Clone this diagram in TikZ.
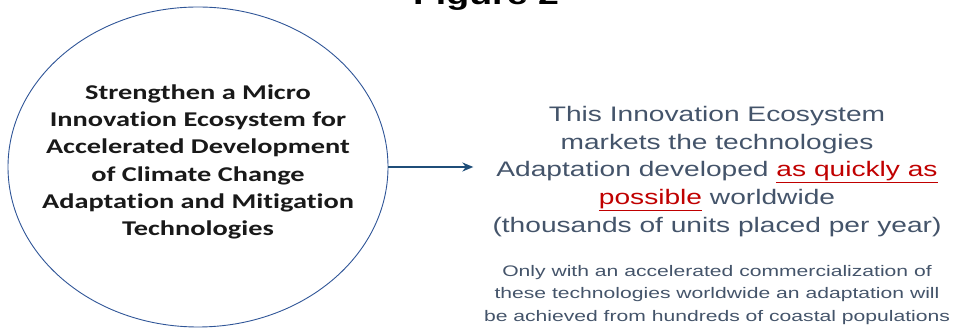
\documentclass[tikz,border=0pt]{standalone}
\usepackage{fontspec}
\setmainfont{Liberation Sans}
\newfontfamily\goalfont[FakeStretch=1.35,Ligatures={NoCommon}]{Carlito}
\newfontfamily\widefont[FakeStretch=1.34]{Liberation Sans}
\newfontfamily\notefont[FakeStretch=1.38]{Liberation Sans}
\usetikzlibrary{positioning,shapes.geometric,arrows.meta}
\definecolor{rim}{HTML}{2F5597}
\definecolor{darrow}{HTML}{1F4E79}
\definecolor{slate}{HTML}{44546A}
\definecolor{accent}{HTML}{C00000}

\begin{document}
\begin{tikzpicture}[x=1pt,y=1pt,>={Stealth[length=11pt,width=9pt]},
  goalbox/.style={ellipse,draw=rim,line width=0.9pt,minimum width=380pt,minimum height=320pt},
  textbox/.style={align=center,inner sep=0pt,text=slate}]
\useasboundingbox (0,0) rectangle (954,329);
\node[font=\widefont\bfseries\fontsize{28}{28}\selectfont,anchor=base] (title) at (486,324) {Figure 2};
\node[goalbox] (goal) at (198,162) {};
\node[align=center,font=\goalfont\bfseries\fontsize{21}{27.2}\selectfont,text=black!90,yshift=5pt] (goaltext) at (goal)
  {Strengthen a Micro\\Innovation Ecosystem for\\Accelerated Development\\of Climate Change\\Adaptation and Mitigation\\Technologies};
\node[textbox,font=\widefont\fontsize{21}{27.8}\selectfont] (market) at (717,157.5)
  {This Innovation Ecosystem\\markets the technologies\\Adaptation developed \textcolor{accent}{\underline{as quickly as}}\\\textcolor{accent}{\underline{possible}} worldwide\\(thousands of units placed per year)};
\node[textbox,font=\notefont\fontsize{15.3}{22.5}\selectfont,below=28pt of market] (note)
  {Only with an accelerated commercialization of\\these technologies worldwide an adaptation will\\be achieved from hundreds of coastal populations};
\draw[->,darrow,line width=2pt,shorten >=19pt] (goal) -- (goal -| market.west);
\end{tikzpicture}
\end{document}
